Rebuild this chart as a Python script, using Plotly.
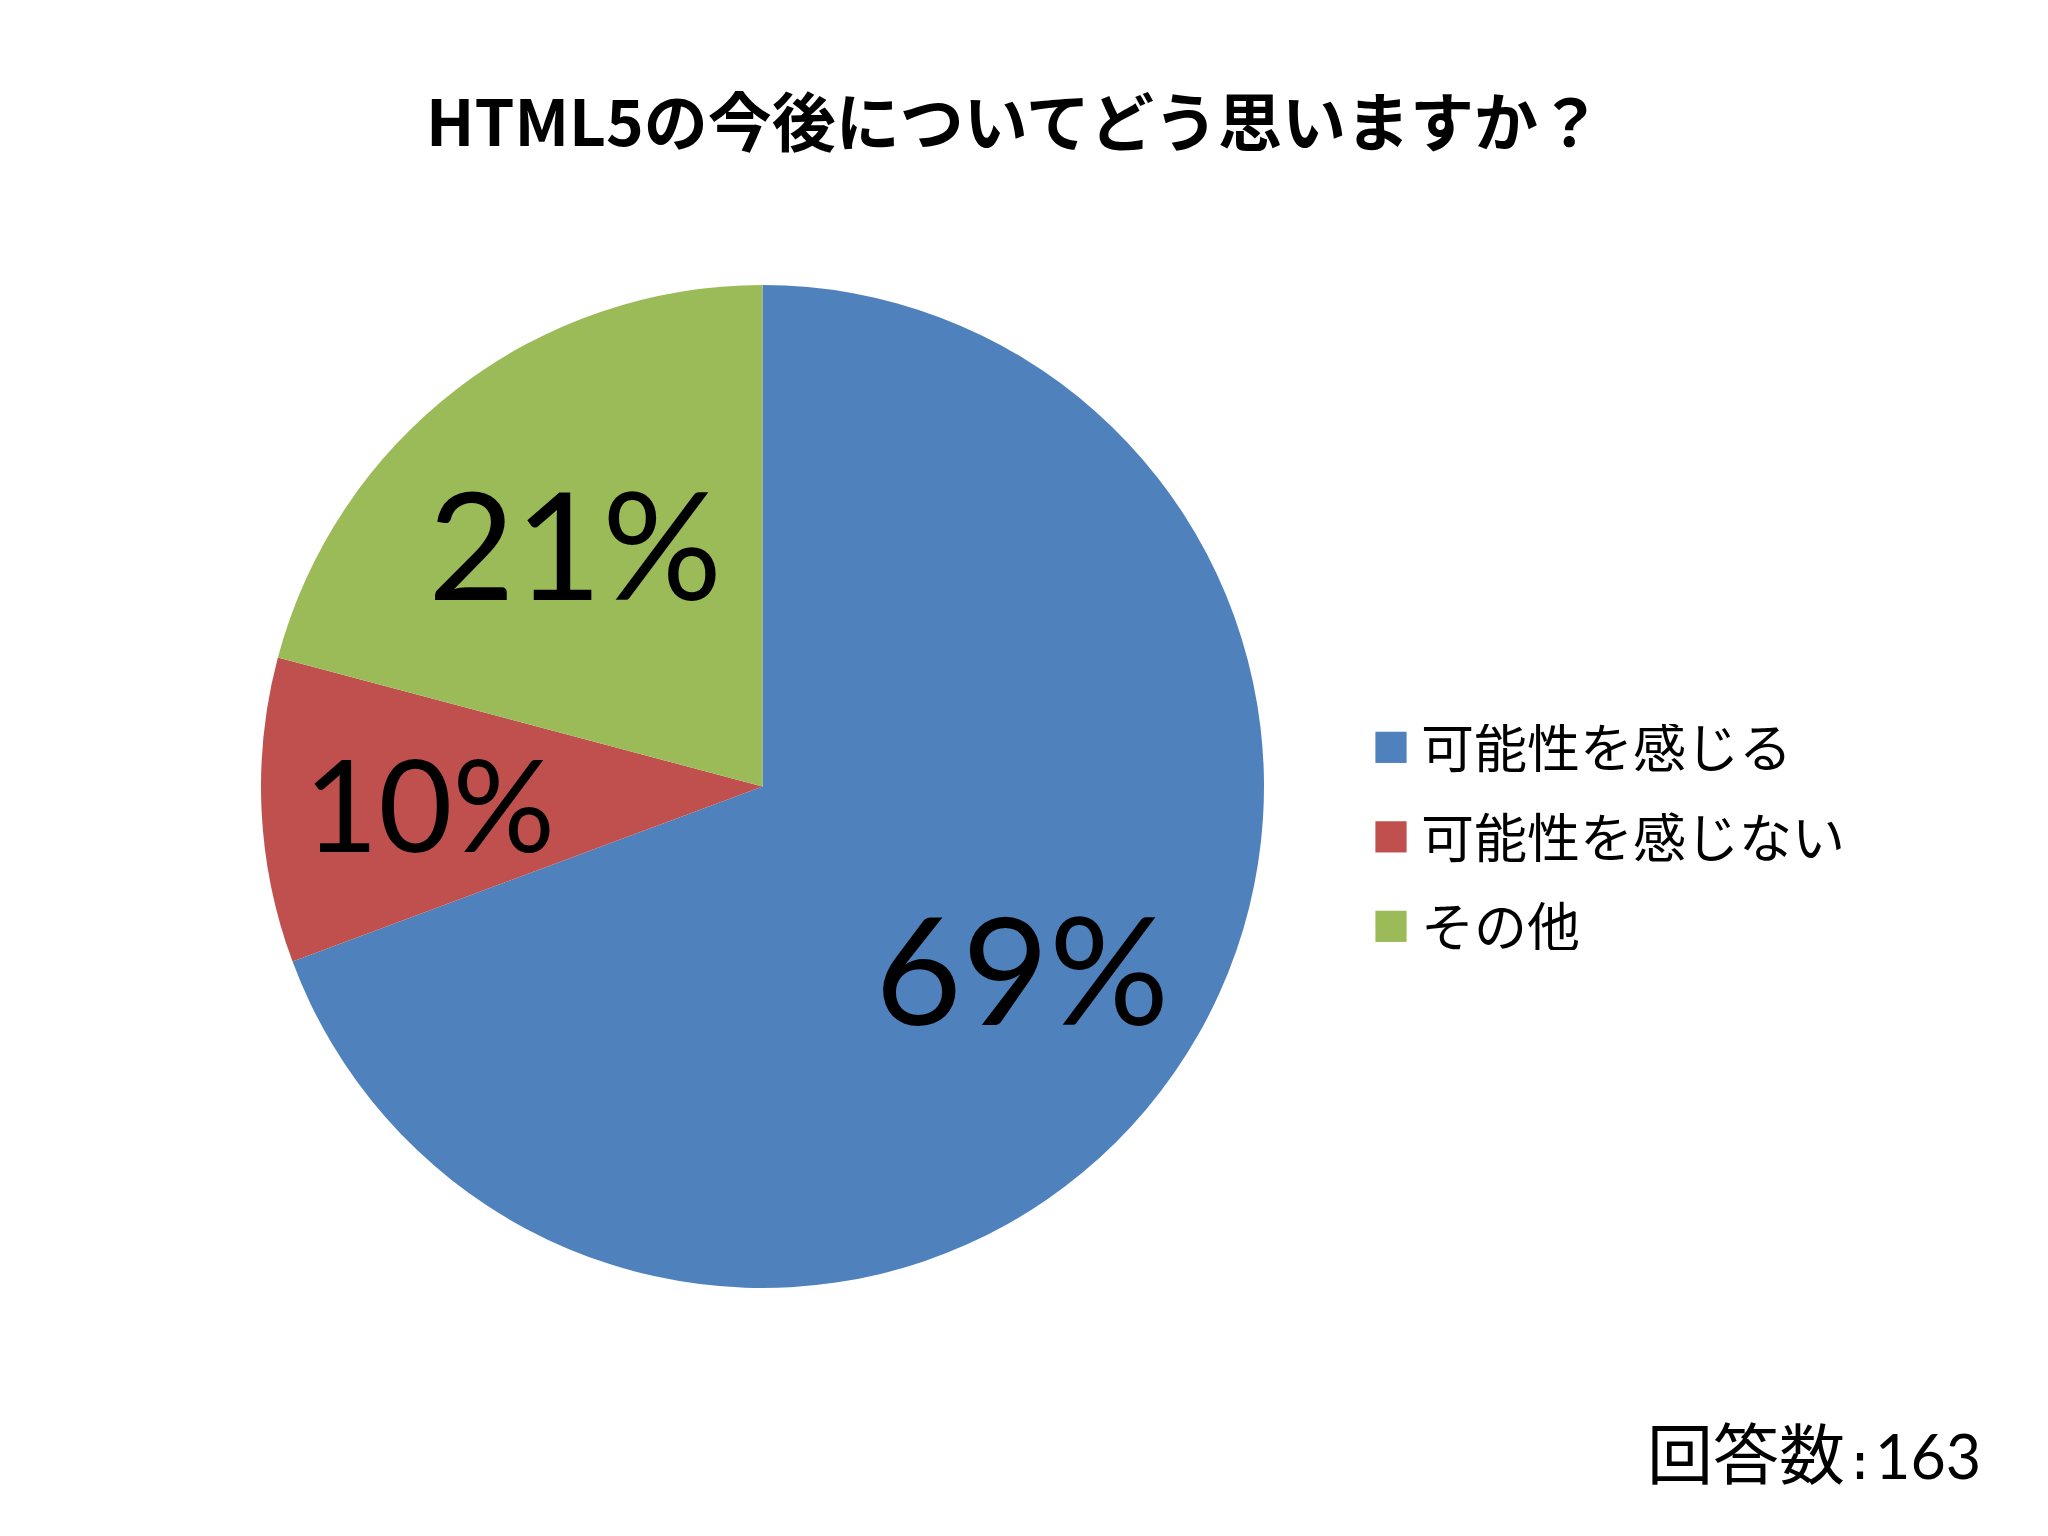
import math
import plotly.graph_objects as go

categories = ["可能性を感じる", "可能性を感じない", "その他"]
counts = [113, 16, 34]
colors = ["#4F81BD", "#C0504D", "#9BBB59"]
label_sizes = [150, 128, 150]
label_radius = [0.63, 0.665, 0.615]
title_text = "HTML5の今後についてどう思いますか？"
note_label = "回答数"
note_value = "163"

W, H = 2048, 1536
cx, cy, r = 762.5, 786.5, 501.5

fig = go.Figure()
fig.add_trace(go.Pie(
    labels=categories,
    values=counts,
    sort=False,
    direction="clockwise",
    rotation=0,
    marker=dict(colors=colors, line=dict(width=0)),
    textinfo="none",
    hoverinfo="label+percent",
    domain=dict(x=[(cx - r) / W, (cx + r) / W], y=[1 - (cy + r) / H, 1 - (cy - r) / H]),
))

# percentage labels placed along each slice's bisector (derived from the data)
total = sum(counts)
annotations = []
cum = 0
for v, s, k in zip(counts, label_sizes, label_radius):
    mid = (cum + v / 2) / total * 2 * math.pi
    cum += v
    px = cx + k * r * math.sin(mid)
    py = cy - k * r * math.cos(mid)
    annotations.append(dict(
        text=f"{round(v / total * 100)}%", x=px / W, y=1 - py / H,
        xref="paper", yref="paper", xanchor="center", yanchor="middle", showarrow=False,
        font=dict(family="Lato, Noto Sans CJK JP", size=s, color="black")))

annotations.append(dict(
    text=(note_label
          + "<span style='font-family:DejaVu Sans Mono;font-size:50px'>:</span>"
          + "<span style='font-family:Lato;font-size:61px'>" + note_value + "</span>"),
    x=1983 / W, y=1 - 1450 / H, xref="paper", yref="paper",
    xanchor="right", yanchor="middle", showarrow=False,
    font=dict(family="Noto Sans CJK JP", size=66, color="black")))

fig.update_layout(
    width=W, height=H,
    margin=dict(l=0, r=0, t=0, b=0),
    paper_bgcolor="white",
    plot_bgcolor="white",
    title=dict(text="<b>" + title_text + "</b>", x=1014 / W, xanchor="center",
               y=1 - 124 / H, yanchor="middle",
               font=dict(family="Noto Sans CJK JP", size=64, color="black")),
    legend=dict(x=1371 / W, xanchor="left", y=1 - 837 / H, yanchor="middle",
                font=dict(family="Noto Sans CJK JP", size=53, color="black"),
                itemwidth=40, tracegroupgap=0, bgcolor="rgba(0,0,0,0)"),
    annotations=annotations,
)

post = """
document.body.style.margin = '0';
var gd = document.getElementById('{plot_id}');
gd.querySelectorAll('.legendpoints path').forEach(function(p){
  p.setAttribute('transform', 'translate(20,0) scale(2.6)');
});
var items = gd.querySelectorAll('.legend .traces');
var pos = [];
items.forEach(function(g){
  var m = /translate\\(([-\\d.]+)[ ,]+([-\\d.]+)\\)/.exec(g.getAttribute('transform') || '');
  pos.push(m ? [parseFloat(m[1]), parseFloat(m[2])] : [0, 0]);
});
if (pos.length === 3) {
  var mid = pos[1][1];
  items.forEach(function(g, i){
    g.setAttribute('transform', 'translate(' + pos[i][0] + ',' + (mid + (i - 1) * 89.5) + ')');
  });
}
"""
fig.write_html("out.html", post_script=post, config={"displayModeBar": False})
